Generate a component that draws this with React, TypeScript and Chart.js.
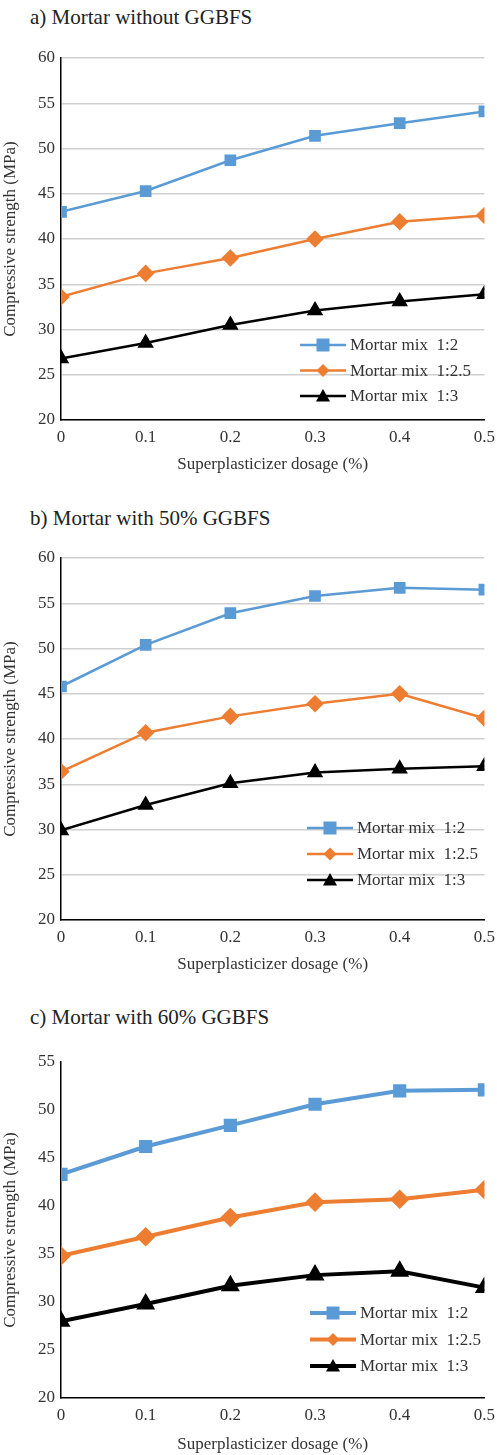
import { useEffect, useRef } from 'react';
import Chart from 'chart.js/auto';

const dosage = [0, 0.1, 0.2, 0.3, 0.4, 0.5];
const mixLabels = ['Mortar mix  1:2', 'Mortar mix  1:2.5', 'Mortar mix  1:3'];
const mixColors = ['#5b9bd5', '#ed7d31', '#000000'];
const mixMarkers = ['rect', 'rectRot', 'triangle'];

const noSlag12 = [43, 45.3, 48.7, 51.4, 52.8, 54.1];
const noSlag125 = [33.6, 36.2, 37.9, 40, 41.9, 42.6];
const noSlag13 = [26.8, 28.5, 30.5, 32.1, 33.1, 33.9];

const slag50_12 = [45.8, 50.4, 53.9, 55.8, 56.7, 56.5];
const slag50_125 = [36.4, 40.7, 42.5, 43.9, 45, 42.3];
const slag50_13 = [29.9, 32.7, 35.1, 36.3, 36.7, 37.0];

const slag60_12 = [43.3, 46.2, 48.4, 50.6, 52, 52.1];
const slag60_125 = [34.8, 36.8, 38.8, 40.4, 40.7, 41.7];
const slag60_13 = [28, 29.8, 31.7, 32.8, 33.2, 31.5];

const SERIF = "'Liberation Serif', 'DejaVu Serif', serif";

function drawMarker(ctx: CanvasRenderingContext2D, kind: string, x: number, y: number, r: number, color: string) {
  ctx.fillStyle = color;
  ctx.beginPath();
  if (kind === 'rect') {
    ctx.rect(x - r, y - r, r * 2, r * 2);
  } else if (kind === 'rectRot') {
    ctx.moveTo(x, y - r);
    ctx.lineTo(x + r, y);
    ctx.lineTo(x, y + r);
    ctx.lineTo(x - r, y);
  } else {
    ctx.moveTo(x, y - r);
    ctx.lineTo(x + r, y + r * 0.8);
    ctx.lineTo(x - r, y + r * 0.8);
  }
  ctx.closePath();
  ctx.fill();
}

// legend drawn inside the plot area
const insideLegend = {
  id: 'insideLegend',
  afterDraw(chart: any) {
    const o = chart.options.plugins.insideLegend;
    if (!o) return;
    const ctx = chart.ctx;
    ctx.save();
    mixLabels.forEach((label, i) => {
      const y = o.y + i * o.gap;
      ctx.strokeStyle = mixColors[i];
      ctx.lineWidth = o.lineWidth;
      ctx.beginPath();
      ctx.moveTo(o.x, y);
      ctx.lineTo(o.x + 46, y);
      ctx.stroke();
      drawMarker(ctx, mixMarkers[i], o.x + 23, y, [6.5, 6.5, 7][i], mixColors[i]);
      ctx.fillStyle = '#333';
      ctx.font = `17px ${SERIF}`;
      ctx.textBaseline = 'middle';
      ctx.fillText(label, o.x + 50, y + 1);
    });
    ctx.restore();
  },
};

interface PanelProps {
  title: string;
  series: number[][];
  yMax: number;
  height: number;
  padTop: number;
  padRight: number;
  xHeight: number;
  grid: boolean;
  lineWidth: number;
  legend: { x: number; y: number; gap: number };
}

function Panel({ title, series, yMax, height, padTop, padRight, xHeight, grid, lineWidth, legend }: PanelProps) {
  const ref = useRef<HTMLCanvasElement>(null);
  useEffect(() => {
    if (!ref.current) return;
    let chart: Chart | null = null;
    let dead = false;
    const build = () => {
      if (dead || !ref.current) return;
      chart = new Chart(ref.current, {
        type: 'line',
        data: {
          datasets: series.map((s, i) => ({
            label: mixLabels[i],
            data: s.map((v, j) => ({ x: dosage[j], y: v })),
            borderColor: mixColors[i],
            backgroundColor: mixColors[i],
            borderWidth: lineWidth,
            pointStyle: mixMarkers[i] as any,
            pointRadius: [6.5, 7, 7][i],
            tension: 0,
          })),
        },
        plugins: [insideLegend],
        options: {
          animation: false,
          responsive: false,
          layout: { padding: { top: padTop, right: padRight, left: 0, bottom: 0 } },
          plugins: {
            legend: { display: false },
            tooltip: { enabled: false },
            insideLegend: { ...legend, lineWidth: lineWidth },
          } as any,
          scales: {
            x: {
              type: 'linear',
              min: 0,
              max: 0.5,
              afterFit: (s: any) => { s.height = xHeight; },
              ticks: { stepSize: 0.1, color: '#333', font: { family: SERIF, size: 17 }, padding: 2 },
              grid: { display: false, drawTicks: true, tickLength: 5, color: '#000' },
              border: { color: '#000', width: 1.5 },
              title: { display: true, text: 'Superplasticizer dosage (%)', color: '#333', font: { family: SERIF, size: 17 }, padding: 0 },
            },
            y: {
              min: 20,
              max: yMax,
              afterFit: (s: any) => { s.width = 61; },
              ticks: { stepSize: 5, color: '#333', font: { family: SERIF, size: 17 }, padding: 6 },
              grid: { display: grid, drawTicks: false, color: '#d0d0d0', lineWidth: 1.5 },
              border: { color: '#000', width: 1.5 },
              title: { display: true, text: 'Compressive strength (MPa)', color: '#333', font: { family: SERIF, size: 17 }, padding: 0 },
            },
          },
        },
      });
    };
    document.fonts.load(`17px 'Liberation Serif'`).then(build, build);
    return () => { dead = true; if (chart) chart.destroy(); };
  }, []);
  return (
    <div>
      <div style={{ fontFamily: SERIF, fontSize: 21, color: '#222', paddingLeft: 30, height: 30, lineHeight: '30px' }}>{title}</div>
      <canvas ref={ref} width={497} height={height} style={{ display: 'block', width: 497, height }} />
    </div>
  );
}

export default function App() {
  useEffect(() => { document.body.style.margin = '0'; }, []);
  return (
    <div style={{ width: 497, height: 1455, background: '#fff', overflow: 'hidden' }}>
      <div style={{ height: 2 }} />
      <Panel title="a) Mortar without GGBFS" series={[noSlag12, noSlag125, noSlag13]} yMax={60}
        height={443} padTop={26} padRight={11} xHeight={55} grid={true} lineWidth={2.5}
        legend={{ x: 300, y: 313, gap: 25.5 }} />
      <div style={{ height: 28 }} />
      <Panel title="b) Mortar with 50% GGBFS" series={[slag50_12, slag50_125, slag50_13]} yMax={60}
        height={442} padTop={25} padRight={11} xHeight={55} grid={true} lineWidth={2.5}
        legend={{ x: 307, y: 295, gap: 26 }} />
      <div style={{ height: 27 }} />
      <Panel title="c) Mortar with 60% GGBFS" series={[slag60_12, slag60_125, slag60_13]} yMax={55}
        height={423} padTop={30} padRight={8} xHeight={57} grid={false} lineWidth={4}
        legend={{ x: 310, y: 281, gap: 26.5 }} />
    </div>
  );
}
